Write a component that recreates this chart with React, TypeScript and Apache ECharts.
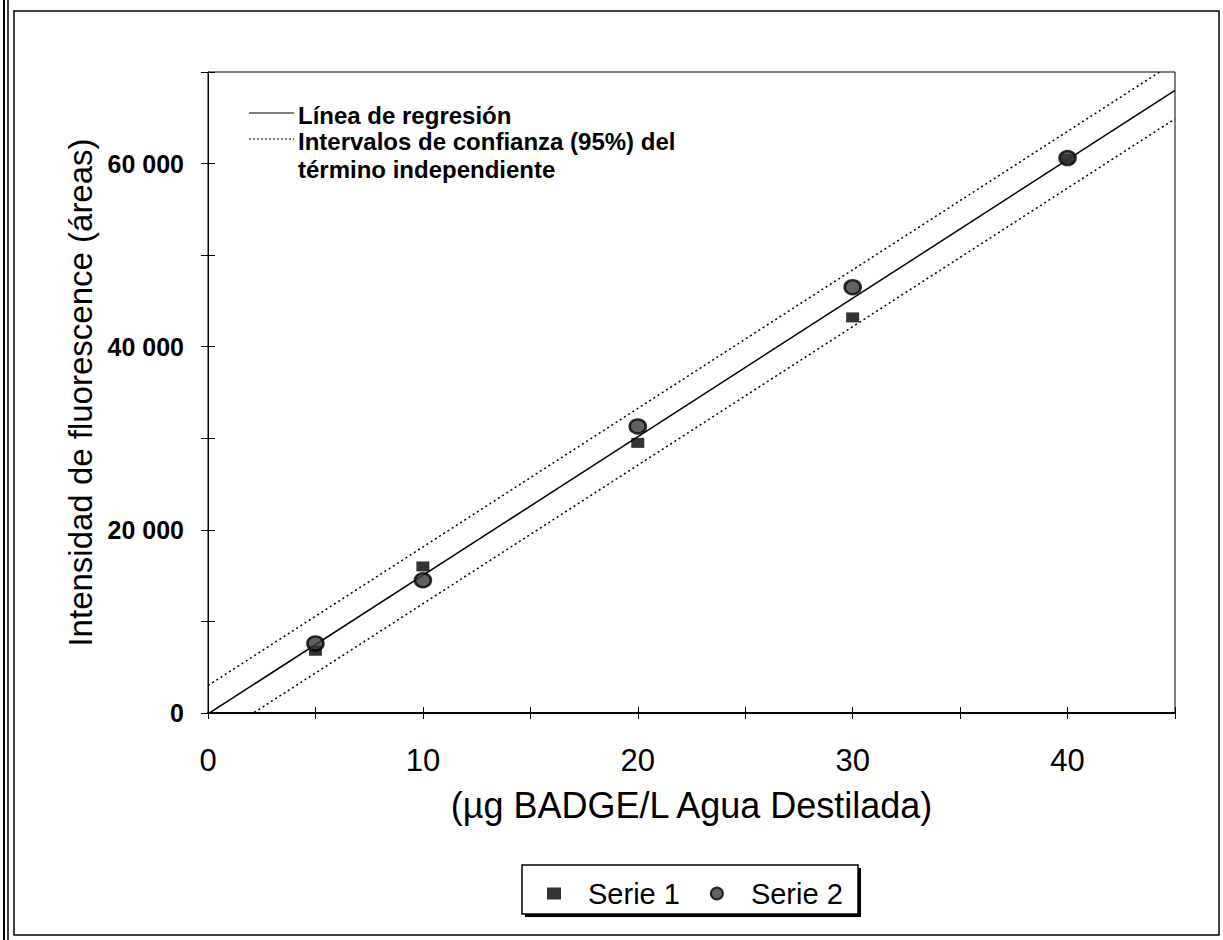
import React, { useEffect, useRef } from "react";
import * as echarts from "echarts";

const xTicks = [0, 10, 20, 30, 40];
const yTickLabels = ["0", "20 000", "40 000", "60 000"];
const concentrations = [5, 10, 20, 30, 40];
const serie1 = [6800, 16000, 29500, 43200, 60500];
const serie2 = [7600, 14500, 31300, 46500, 60600];
const regIntercept = -100;
const regSlope = 1513;
const ciUpper = 3100;
const ciLower = -3100;
const xRange = [0, 45];

const FONT = "'Liberation Sans', Arial, sans-serif";

function linePts(a: number, b: number) {
  return xRange.map((x) => [x, a + b * x]);
}

export default function App() {
  const ref = useRef<HTMLDivElement>(null);
  useEffect(() => {
    document.body.style.margin = "0";
    const chart = echarts.init(ref.current!, null, { renderer: "svg" });
    const xAxisBase = {
      type: "value",
      min: 0,
      max: 45,
      interval: 5,
      gridIndex: 0,
    };
    const yAxisBase = {
      type: "value",
      min: 0,
      max: 70000,
      interval: 10000,
      gridIndex: 0,
    };
    chart.setOption({
      animation: false,
      backgroundColor: "#fff",
      grid: {
        left: 208,
        top: 72,
        width: 967,
        height: 641,
        show: true,
        borderColor: "#000",
        borderWidth: 1,
        backgroundColor: "transparent",
      },
      xAxis: [
        {
          ...xAxisBase,
          name: "(µg BADGE/L Agua Destilada)",
          nameLocation: "middle",
          nameGap: 74,
          nameTextStyle: { fontFamily: FONT, fontSize: 36, color: "#000" },
          axisLine: { show: true, lineStyle: { color: "#000", width: 2 } },
          axisTick: { show: true, inside: false, length: 6, lineStyle: { color: "#000" } },
          splitLine: { show: false },
          axisLabel: {
            fontFamily: FONT,
            fontSize: 31,
            color: "#000",
            margin: 32,
            formatter: (v: number) => (xTicks.includes(v) ? String(v) : ""),
          },
        },
        {
          ...xAxisBase,
          position: "bottom",
          axisLine: { show: false },
          axisTick: { show: true, inside: true, length: 6, lineStyle: { color: "#000" } },
          axisLabel: { show: false },
          splitLine: { show: false },
        },
      ],
      yAxis: [
        {
          ...yAxisBase,
          name: "Intensidad de fluorescence (áreas)",
          nameLocation: "middle",
          nameGap: 108,
          nameTextStyle: { fontFamily: FONT, fontSize: 33, color: "#000" },
          axisLine: { show: true, lineStyle: { color: "#000", width: 1 } },
          axisTick: { show: true, inside: false, length: 7, lineStyle: { color: "#000" } },
          splitLine: { show: false },
          axisLabel: {
            fontFamily: FONT,
            fontSize: 25,
            fontWeight: "bold",
            color: "#000",
            margin: 24,
            formatter: (v: number) => {
              const idx = v / 20000;
              return Number.isInteger(idx) && idx < yTickLabels.length ? yTickLabels[idx] : "";
            },
          },
        },
        {
          ...yAxisBase,
          position: "left",
          axisLine: { show: false },
          axisTick: { show: true, inside: true, length: 7, lineStyle: { color: "#000" } },
          axisLabel: { show: false },
          splitLine: { show: false },
        },
      ],
      legend: {
        data: ["Serie 1", "Serie 2"],
        left: 542,
        top: 874,
        orient: "horizontal",
        itemWidth: 14,
        itemHeight: 12,
        itemGap: 30,
        z: 10,
        textStyle: { fontFamily: FONT, fontSize: 29, color: "#000", padding: [0, 0, 0, 22] },
      },
      graphic: [
        { type: "line", shape: { x1: 4, y1: 0, x2: 4, y2: 940 }, style: { stroke: "#000", lineWidth: 2 } },
        { type: "line", shape: { x1: 8, y1: 0, x2: 8, y2: 940 }, style: { stroke: "#000", lineWidth: 1.5 } },
        {
          type: "rect",
          shape: { x: 14, y: 11, width: 1205, height: 924 },
          style: { fill: "none", stroke: "#000", lineWidth: 1.5 },
          z: 0,
        },
        {
          type: "rect",
          shape: { x: 525, y: 868, width: 336, height: 49 },
          style: { fill: "#000" },
          z: 1,
        },
        {
          type: "rect",
          shape: { x: 522, y: 865, width: 336, height: 49 },
          style: { fill: "#fff", stroke: "#000", lineWidth: 1.5 },
          z: 2,
        },
        { type: "line", shape: { x1: 249, y1: 113, x2: 294, y2: 113 }, style: { stroke: "#000", lineWidth: 1.2 }, z: 5 },
        {
          type: "line",
          shape: { x1: 249, y1: 139, x2: 294, y2: 139 },
          style: { stroke: "#000", lineWidth: 1.2, lineDash: [2, 2] },
          z: 5,
        },
        {
          type: "text",
          x: 298,
          y: 115,
          style: { text: "Línea de regresión", font: `bold 24px ${FONT}`, fill: "#000", textVerticalAlign: "middle" },
          z: 5,
        },
        {
          type: "text",
          x: 298,
          y: 141,
          style: {
            text: "Intervalos de confianza (95%) del",
            font: `bold 24px ${FONT}`,
            fill: "#000",
            textVerticalAlign: "middle",
          },
          z: 5,
        },
        {
          type: "text",
          x: 298,
          y: 169,
          style: { text: "término independiente", font: `bold 24px ${FONT}`, fill: "#000", textVerticalAlign: "middle" },
          z: 5,
        },
      ],
      series: [
        {
          name: "Línea de regresión",
          type: "line",
          data: linePts(regIntercept, regSlope),
          symbol: "none",
          clip: true,
          lineStyle: { color: "#000", width: 1.5 },
          z: 2,
        },
        {
          name: "IC superior",
          type: "line",
          data: linePts(regIntercept + ciUpper, regSlope),
          symbol: "none",
          clip: true,
          lineStyle: { color: "#000", width: 1.5, type: [2, 3] },
          z: 2,
        },
        {
          name: "IC inferior",
          type: "line",
          data: linePts(regIntercept + ciLower, regSlope),
          symbol: "none",
          clip: true,
          lineStyle: { color: "#000", width: 1.5, type: [2, 3] },
          z: 2,
        },
        {
          name: "Serie 1",
          type: "scatter",
          data: concentrations.map((x, i) => [x, serie1[i]]),
          symbol: "rect",
          symbolSize: [13, 10],
          itemStyle: { color: "#000" },
          z: 4,
        },
        {
          name: "Serie 2",
          type: "scatter",
          data: concentrations.map((x, i) => [x, serie2[i]]),
          symbol: "circle",
          symbolSize: [16, 14],
          itemStyle: { color: "#3a3a3a", borderColor: "#000", borderWidth: 2.5 },
          z: 5,
        },
      ],
    });
    return () => chart.dispose();
  }, []);
  return <div ref={ref} style={{ width: 1223, height: 940 }} />;
}
